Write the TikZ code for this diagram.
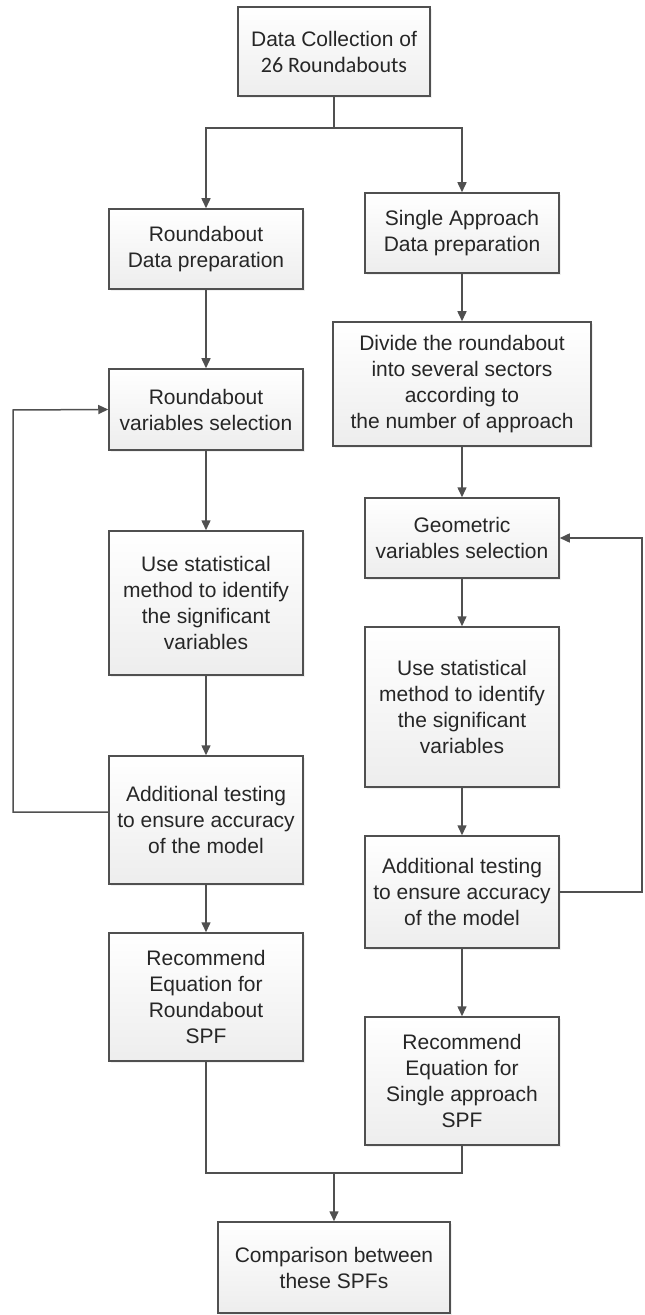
\documentclass[tikz,border=0pt]{standalone}
\usepackage{fontspec}
\setmainfont{Liberation Sans}
\newfontfamily\arial{Liberation Sans}
\newfontfamily\calib{Carlito}
\usetikzlibrary{arrows.meta,shadows}
\definecolor{linegray}{HTML}{505050}
\definecolor{textgray}{HTML}{262626}

\begin{document}
\begin{tikzpicture}[x=0.5pt,y=-0.5pt,
        stepbox/.style={draw=linegray, line width=0.75pt, top color=white, bottom color=black!7,
                drop shadow={opacity=0.12, shadow xshift=1pt, shadow yshift=-1pt},
                minimum width=97pt, align=center, text=textgray,
                font=\arial\fontsize{10.5}{13}\selectfont, inner sep=2pt},
        link/.style={draw=linegray, line width=0.75pt},
        arr/.style={link, -{Triangle[length=5pt,width=4.5pt]}}]
        \useasboundingbox (0,0) rectangle (644,1315);
        % top
        \node[stepbox, minimum width=96pt, minimum height=44.5pt](top) at (334,51.5) {Data Collection of\\{\calib\fontsize{11}{13}\selectfont 26 Roundabouts}};
        % roundabout branch
        \node[stepbox, minimum height=40pt](rdp) at (206,249) {Roundabout\\Data preparation};
        \node[stepbox, minimum height=40.5pt](rvs) at (206,409.5) {Roundabout\\variables selection};
        \node[stepbox, minimum height=72pt](rstat) at (206,603) {Use statistical\\method to identify\\the significant\\variables};
        \node[stepbox, minimum height=64pt](rtest) at (206,820) {Additional testing\\to ensure accuracy\\of the model};
        \node[stepbox, minimum height=64pt](rrec) at (206,997) {Recommend\\Equation for\\Roundabout\\SPF};
        % single approach branch
        \node[stepbox, minimum height=40pt](sdp) at (462,233) {Single Approach\\Data preparation};
        \node[stepbox, minimum width=129pt, minimum height=62pt](sdiv) at (462,384) {Divide the roundabout\\into several sectors\\according to\\the number of approach};
        \node[stepbox, minimum height=40pt](sgeo) at (462,538) {Geometric\\variables selection};
        \node[stepbox, minimum height=80pt](sstat) at (462,707) {Use statistical\\method to identify\\the significant\\variables};
        \node[stepbox, minimum height=56pt](stest) at (462,892) {Additional testing\\to ensure accuracy\\of the model};
        \node[stepbox, minimum height=64pt](srec) at (462,1081) {Recommend\\Equation for\\Single approach\\SPF};
        % bottom
        \node[stepbox, minimum width=116pt, minimum height=45.5pt](comp) at (334,1267.5) {Comparison between\\these SPFs};
        \coordinate(split) at (334,128);
        \coordinate(join) at (334,1173);
        \coordinate(lback) at (13,410);
        \coordinate(rback) at (642,538);
        \draw[link](top)--(split);
        \draw[arr](split)-|(rdp);
        \draw[arr](split)-|(sdp);
        \draw[arr](rdp)--(rvs);
        \draw[arr](rvs)--(rstat);
        \draw[arr](rstat)--(rtest);
        \draw[arr](rtest)--(rrec);
        \draw[arr](sdp)--(sdiv);
        \draw[arr](sdiv)--(sgeo);
        \draw[arr](sgeo)--(sstat);
        \draw[arr](sstat)--(stest);
        \draw[arr](stest)--(srec);
        \draw[arr]([yshift=4pt]rtest.west)-|(lback)--(rvs.west);
        \draw[arr](stest.east)-|(rback)--(sgeo.east);
        \draw[link](rrec)|-(join);
        \draw[link](srec)|-(join);
        \draw[arr](join)--(comp);
\end{tikzpicture}
\end{document}
